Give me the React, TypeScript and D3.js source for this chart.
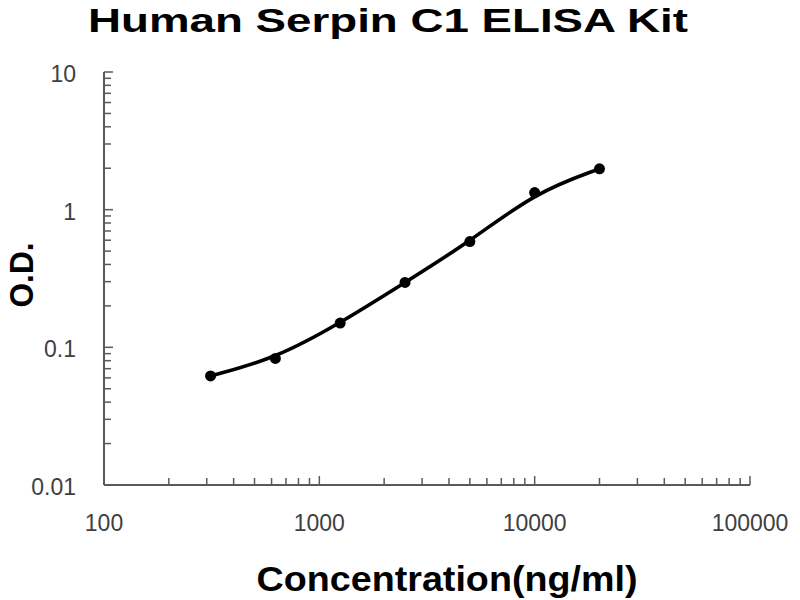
import React, { useRef, useEffect } from 'react';
import * as d3 from 'd3';

// standard curve readings
const concentrations = [312.5, 625, 1250, 2500, 5000, 10000, 20000];
const odValues = [0.062, 0.083, 0.15, 0.296, 0.586, 1.33, 1.98];

const xTicks = [100, 1000, 10000, 100000];
const yTicks = [0.01, 0.1, 1, 10];
const yTickLabels = ['0.01', '0.1', '1', '10'];

const title = 'Human Serpin C1 ELISA Kit';
const xTitle = 'Concentration(ng/ml)';
const yTitle = 'O.D.';

const App: React.FC = () => {
  const svgRef = useRef<SVGSVGElement | null>(null);
  const width = 800;
  const height = 600;
  const margin = { top: 72, right: 50, bottom: 115, left: 104 };

  useEffect(() => {
    const svg = d3.select(svgRef.current);
    svg.selectAll('*').remove();

    const x = d3.scaleLog().domain([100, 100000]).range([margin.left, width - margin.right]);
    const y = d3.scaleLog().domain([0.01, 10]).range([height - margin.bottom, margin.top]);

    const axisColor = '#5a5a5a';
    const font = 'Arial, "Liberation Sans", sans-serif';

    // minor ticks (2..9 of each decade)
    const minorX: number[] = [];
    for (let d = 100; d < 100000; d *= 10) for (let k = 2; k <= 9; k++) minorX.push(d * k);
    const minorY: number[] = [];
    for (let d = 0.01; d < 9; d *= 10) for (let k = 2; k <= 9; k++) minorY.push(+(d * k).toPrecision(3));

    const g = svg.append('g');

    // axis lines
    g.append('line')
      .attr('x1', x(100)).attr('x2', x(100))
      .attr('y1', y(10)).attr('y2', y(0.01))
      .attr('stroke', axisColor).attr('stroke-width', 2);
    g.append('line')
      .attr('x1', x(100)).attr('x2', x(100000))
      .attr('y1', y(0.01)).attr('y2', y(0.01))
      .attr('stroke', axisColor).attr('stroke-width', 2);

    // y ticks, pointing inward
    g.selectAll('.ymaj').data(yTicks).enter().append('line')
      .attr('x1', x(100)).attr('x2', x(100) + 9)
      .attr('y1', d => y(d)).attr('y2', d => y(d))
      .attr('stroke', axisColor).attr('stroke-width', 1.5);
    g.selectAll('.ymin').data(minorY).enter().append('line')
      .attr('x1', x(100)).attr('x2', x(100) + 7)
      .attr('y1', d => y(d)).attr('y2', d => y(d))
      .attr('stroke', axisColor).attr('stroke-width', 1.5);

    // x ticks
    g.selectAll('.xmaj').data(xTicks).enter().append('line')
      .attr('x1', d => x(d)).attr('x2', d => x(d))
      .attr('y1', y(0.01)).attr('y2', y(0.01) - 9)
      .attr('stroke', axisColor).attr('stroke-width', 1.5);
    g.selectAll('.xmin').data(minorX).enter().append('line')
      .attr('x1', d => x(d)).attr('x2', d => x(d))
      .attr('y1', y(0.01)).attr('y2', y(0.01) - 7)
      .attr('stroke', axisColor).attr('stroke-width', 1.5);

    // tick labels
    g.selectAll('.ylab').data(yTicks).enter().append('text')
      .attr('x', x(100) - 28)
      .attr('y', d => y(d) + 2)
      .attr('text-anchor', 'end')
      .attr('dominant-baseline', 'central')
      .attr('font-family', font)
      .attr('font-size', 23)
      .attr('fill', '#404040')
      .text((d, i) => yTickLabels[i]);

    g.selectAll('.xlab').data(xTicks).enter().append('text')
      .attr('x', d => x(d))
      .attr('y', y(0.01) + 38)
      .attr('text-anchor', 'middle')
      .attr('dominant-baseline', 'central')
      .attr('font-family', font)
      .attr('font-size', 23)
      .attr('fill', '#404040')
      .text(d => String(d));

    // smoothed fit through the standards
    const pts: [number, number][] = concentrations.map((c, i) => [x(c), y(odValues[i])]);
    const line = d3.line().curve(d3.curveBasis);
    g.append('path')
      .attr('d', line(pts) as string)
      .attr('fill', 'none')
      .attr('stroke', '#000')
      .attr('stroke-width', 3.6)
      .attr('stroke-linecap', 'round');

    g.selectAll('.pt').data(pts).enter().append('circle')
      .attr('cx', d => d[0]).attr('cy', d => d[1])
      .attr('r', 5.5)
      .attr('fill', '#000');

    // titles
    svg.append('text')
      .attr('x', 388).attr('y', 32)
      .attr('text-anchor', 'middle')
      .attr('font-family', font)
      .attr('font-weight', 'bold')
      .attr('font-size', 34)
      .attr('textLength', 600)
      .attr('lengthAdjust', 'spacingAndGlyphs')
      .text(title);

    svg.append('text')
      .attr('x', 447).attr('y', 591)
      .attr('text-anchor', 'middle')
      .attr('font-family', font)
      .attr('font-weight', 'bold')
      .attr('font-size', 35)
      .attr('textLength', 381)
      .attr('lengthAdjust', 'spacingAndGlyphs')
      .text(xTitle);

    svg.append('text')
      .attr('transform', 'translate(33,275) rotate(-90)')
      .attr('text-anchor', 'middle')
      .attr('font-family', font)
      .attr('font-weight', 'bold')
      .attr('font-size', 33)
      .attr('textLength', 65)
      .attr('lengthAdjust', 'spacingAndGlyphs')
      .text(yTitle);
  }, []);

  return (
    <svg
      ref={svgRef}
      width={width}
      height={height}
      style={{ position: 'absolute', left: 0, top: 0, background: '#fff' }}
    />
  );
};

export default App;
